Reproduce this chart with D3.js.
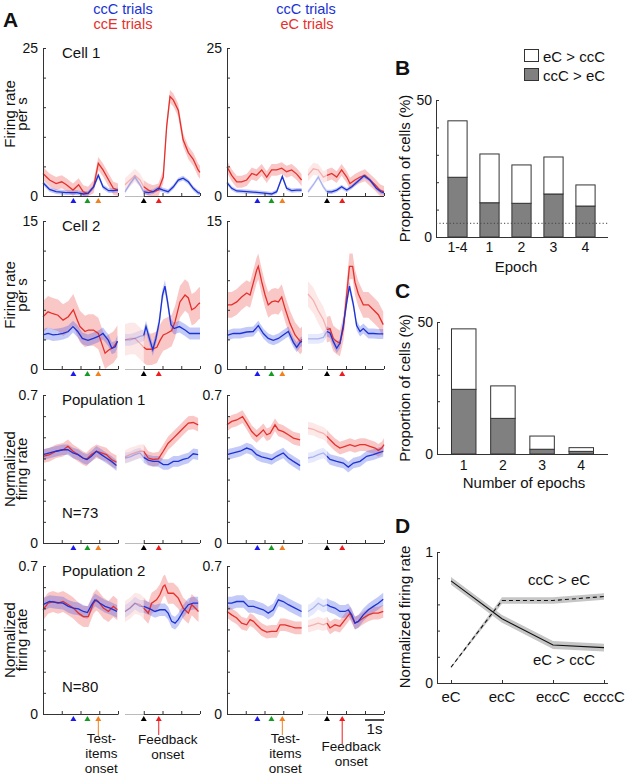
<!DOCTYPE html>
<html><head><meta charset="utf-8">
<script src="https://cdn.jsdelivr.net/npm/d3@7"></script>
<style>
body{margin:0;background:#fff}
text{font-family:"Liberation Sans",Arial,Helvetica,sans-serif;fill:#111}
</style>
</head><body><script>
// ================= DATA =================
// Panel A: traces as [time (s) within epoch window, firing rate]
// Row 1: Cell 1
const c1L_test_ccE=[[0,3.8],[0.35,2.7],[0.7,2.1],[1.0,2.4],[1.25,1.9],[1.6,1.0],[1.9,1.9],[2.15,0.7],[2.4,0.45],[2.7,1.55],[2.95,5.5],[3.2,4.4],[3.5,2.7],[3.75,1.3],[4.0,1.0]];
const c1L_test_ccC=[[0,2.25],[0.35,1.1],[0.7,0.73],[1.25,0.56],[1.8,0.56],[2.15,0.34],[2.4,0.45],[2.7,1.55],[2.95,3.5],[3.2,1.55],[3.5,0.9],[3.75,0.9],[4.0,1.0]];
const c1L_fb_ccE=[[0,1.9],[0.27,2.7],[0.53,3.5],[0.8,2.7],[1.0,1.55],[1.25,1.0],[1.5,0.7],[1.78,1.0],[2.04,3.2],[2.22,11.7],[2.4,16.8],[2.58,16.2],[2.84,14.5],[3.1,9.5],[3.38,7.3],[3.64,6.2],[3.9,4.4],[4.0,4.0]];
const c1L_fb_ccC=[[0,0.7],[0.27,2.1],[0.53,3.2],[0.8,1.9],[1.0,0.7],[1.25,0.56],[1.5,0.73],[1.78,1.3],[2.04,1.0],[2.3,0.73],[2.58,1.55],[2.84,2.7],[3.1,3.0],[3.38,2.4],[3.64,1.3],[3.9,0.56],[4.0,0.5]];
const c1R_test_eC=[[0,4.95],[0.25,3.5],[0.52,2.4],[0.78,2.4],[1.05,2.7],[1.32,3.8],[1.58,3.5],[1.85,4.4],[2.12,3.2],[2.38,4.4],[2.65,4.4],[2.92,4.7],[3.18,4.1],[3.45,4.4],[3.72,3.7],[3.98,2.7]];
const c1R_test_ccC=[[0,2.25],[0.25,1.3],[0.52,0.85],[1.05,0.73],[1.58,0.62],[2.12,0.45],[2.38,0.34],[2.65,0.73],[2.95,3.3],[3.18,1.3],[3.45,0.9],[3.72,1.0],[3.98,1.0]];
const c1R_fb_eC=[[0,3.5],[0.28,4.6],[0.54,4.4],[0.81,3.2],[1.0,3.5],[1.25,3.8],[1.51,3.2],[1.77,4.4],[2.04,3.2],[2.21,2.1],[2.47,2.7],[2.74,3.2],[3.0,3.5],[3.26,2.7],[3.53,1.9],[3.79,1.0],[4.0,0.7]];
const c1R_fb_ccC=[[0,0.7],[0.28,1.9],[0.54,3.2],[0.81,1.55],[1.0,0.7],[1.25,0.7],[1.51,1.0],[1.77,1.55],[2.04,1.0],[2.3,1.55],[2.6,2.4],[2.95,3.4],[3.26,2.7],[3.6,1.3],[3.85,0.7],[4.0,0.56]];
// Row 2: Cell 2
const c2L_test_ccE=[[0,5.3],[0.27,5.8],[0.53,5.6],[0.8,5.45],[1.07,4.95],[1.35,5.3],[1.62,6.0],[1.8,5.1],[1.97,4.3],[2.24,3.8],[2.42,3.95],[2.69,3.95],[2.95,3.6],[3.13,2.6],[3.31,1.6],[3.49,1.9],[3.75,2.2],[3.97,2.8]];
const c2L_test_ccC=[[0,3.45],[0.27,3.6],[0.53,3.45],[0.8,3.5],[1.07,3.6],[1.35,3.8],[1.6,4.3],[1.85,3.8],[2.1,3.1],[2.4,2.9],[2.69,3.1],[2.95,3.3],[3.2,3.6],[3.49,2.9],[3.67,2.1],[3.85,2.25],[3.97,2.8]];
const c2L_fb_ccE=[[0,2.95],[0.27,3.1],[0.53,3.1],[0.8,2.6],[1.0,2.2],[1.15,2.0],[1.42,2.0],[1.7,2.2],[1.87,2.9],[2.04,3.45],[2.22,3.6],[2.49,3.9],[2.67,4.8],[2.93,6.8],[3.2,7.5],[3.38,7.2],[3.56,6.0],[3.74,6.2],[3.92,6.6],[4.0,6.7]];
const c2L_fb_ccC=[[0,2.95],[0.27,2.95],[0.53,3.1],[0.8,3.3],[1.0,3.4],[1.12,4.3],[1.3,3.1],[1.48,1.95],[1.65,3.1],[1.83,4.8],[2.0,7.5],[2.13,8.4],[2.27,6.8],[2.45,4.5],[2.62,4.1],[2.9,4.3],[3.2,3.95],[3.45,3.6],[3.75,3.6],[4.0,3.6]];
const c2R_test_eC=[[0,6.5],[0.25,6.5],[0.52,6.8],[0.78,7.3],[1.05,7.7],[1.23,7.5],[1.4,8.7],[1.58,10.0],[1.67,10.4],[1.85,8.85],[2.03,7.5],[2.2,6.5],[2.38,6.8],[2.56,6.9],[2.74,6.8],[2.92,7.3],[3.1,6.1],[3.36,4.6],[3.63,3.45],[3.9,2.8],[4.0,3.0]];
const c2R_test_ccC=[[0,3.4],[0.34,3.6],[0.7,3.6],[1.05,3.75],[1.4,3.8],[1.67,4.4],[1.94,3.6],[2.2,3.1],[2.47,2.9],[2.74,3.1],[3.0,3.45],[3.27,3.8],[3.54,2.7],[3.72,2.2],[3.9,2.7],[4.0,2.8]];
const c2R_fb_eC=[[0,7.6],[0.28,6.95],[0.54,5.9],[0.81,5.0],[1.0,3.98],[1.16,4.1],[1.33,3.1],[1.51,2.8],[1.68,2.6],[1.86,4.1],[2.04,7.6],[2.18,10.4],[2.35,10.4],[2.47,8.8],[2.65,7.6],[2.91,6.5],[3.18,6.5],[3.44,6.0],[3.7,5.5],[3.96,4.5]];
const c2R_fb_ccC=[[0,3.05],[0.28,3.05],[0.54,3.05],[0.81,3.2],[1.0,3.8],[1.16,3.65],[1.33,2.8],[1.51,2.1],[1.68,2.6],[1.86,4.45],[2.04,6.8],[2.18,8.4],[2.39,6.5],[2.56,4.4],[2.74,3.8],[2.91,4.1],[3.18,3.6],[3.44,3.6],[3.7,3.55],[3.96,3.55]];
// Row 3: Population 1 (normalized)
const p1L_test_ccE=[[0,0.41],[0.35,0.418],[0.7,0.434],[1.07,0.441],[1.33,0.457],[1.6,0.434],[1.87,0.418],[2.13,0.402],[2.31,0.395],[2.58,0.418],[2.85,0.434],[3.11,0.426],[3.38,0.418],[3.65,0.395],[3.92,0.382]];
const p1L_test_ccC=[[0,0.418],[0.35,0.426],[0.7,0.434],[1.07,0.441],[1.33,0.441],[1.6,0.426],[1.87,0.418],[2.13,0.402],[2.35,0.395],[2.58,0.41],[2.85,0.434],[3.11,0.418],[3.38,0.402],[3.65,0.386],[3.92,0.366]];
const p1L_fb_ccE=[[0,0.407],[0.27,0.418],[0.53,0.426],[0.8,0.434],[1.0,0.434],[1.24,0.402],[1.5,0.395],[1.78,0.398],[2.04,0.434],[2.3,0.472],[2.58,0.496],[2.84,0.519],[3.1,0.543],[3.38,0.567],[3.64,0.57],[3.9,0.559]];
const p1L_fb_ccC=[[0,0.402],[0.27,0.407],[0.53,0.418],[0.8,0.426],[1.0,0.405],[1.24,0.392],[1.5,0.386],[1.78,0.386],[2.04,0.371],[2.3,0.371],[2.58,0.386],[2.84,0.386],[3.1,0.395],[3.38,0.402],[3.64,0.422],[3.9,0.418]];
const p1R_test_eC=[[0,0.559],[0.25,0.575],[0.52,0.582],[0.83,0.598],[1.05,0.567],[1.32,0.527],[1.58,0.504],[1.76,0.519],[1.94,0.535],[2.12,0.512],[2.3,0.519],[2.56,0.559],[2.74,0.535],[3.0,0.527],[3.27,0.512],[3.54,0.496],[3.9,0.488]];
const p1R_test_ccC=[[0,0.418],[0.34,0.426],[0.7,0.434],[1.05,0.449],[1.32,0.441],[1.58,0.418],[1.85,0.407],[2.12,0.402],[2.38,0.395],[2.65,0.41],[3.0,0.426],[3.27,0.402],[3.54,0.386],[3.9,0.366]];
const p1R_fb_eC=[[0,0.543],[0.28,0.538],[0.54,0.527],[0.81,0.519],[1.0,0.504],[1.16,0.488],[1.42,0.465],[1.68,0.449],[1.95,0.457],[2.21,0.465],[2.47,0.457],[2.74,0.465],[3.0,0.465],[3.26,0.457],[3.53,0.449],[3.7,0.438],[3.88,0.449],[4.0,0.465]];
const p1R_fb_ccC=[[0,0.402],[0.28,0.407],[0.54,0.418],[0.81,0.426],[1.0,0.41],[1.16,0.395],[1.51,0.386],[1.86,0.378],[2.12,0.359],[2.39,0.378],[2.74,0.386],[3.09,0.41],[3.44,0.418],[3.7,0.426],[3.96,0.434]];
// Row 4: Population 2 (normalized)
const p2L_test_ccE=[[0,0.493],[0.27,0.524],[0.53,0.532],[0.8,0.524],[1.07,0.532],[1.35,0.517],[1.62,0.501],[1.89,0.477],[2.15,0.461],[2.42,0.461],[2.69,0.524],[2.85,0.54],[2.95,0.532],[3.22,0.501],[3.49,0.485],[3.75,0.509],[3.97,0.493]];
const p2L_test_ccC=[[0,0.517],[0.35,0.532],[0.7,0.528],[1.07,0.524],[1.35,0.509],[1.62,0.501],[1.89,0.497],[2.15,0.485],[2.37,0.48],[2.6,0.517],[2.77,0.54],[3.04,0.524],[3.31,0.509],[3.58,0.501],[3.95,0.485]];
const p2L_fb_ccE=[[0,0.485],[0.27,0.501],[0.53,0.524],[0.8,0.517],[1.0,0.501],[1.24,0.477],[1.42,0.524],[1.68,0.54],[1.86,0.564],[2.04,0.603],[2.13,0.61],[2.3,0.571],[2.58,0.571],[2.84,0.548],[3.1,0.501],[3.38,0.477],[3.56,0.517],[3.74,0.501],[3.92,0.485]];
const p2L_fb_ccC=[[0,0.485],[0.27,0.501],[0.53,0.524],[0.8,0.509],[1.0,0.509],[1.33,0.497],[1.6,0.485],[1.86,0.493],[2.13,0.493],[2.3,0.477],[2.49,0.438],[2.67,0.43],[2.84,0.446],[3.1,0.485],[3.38,0.517],[3.64,0.524],[3.9,0.524]];
const p2R_test_eC=[[0,0.485],[0.25,0.469],[0.52,0.454],[0.78,0.43],[1.05,0.422],[1.23,0.446],[1.41,0.438],[1.58,0.422],[1.85,0.399],[2.12,0.387],[2.38,0.391],[2.65,0.391],[2.83,0.422],[3.09,0.422],[3.36,0.415],[3.63,0.407],[3.98,0.407]];
const p2R_test_ccC=[[0,0.524],[0.25,0.524],[0.52,0.532],[0.88,0.532],[1.14,0.509],[1.41,0.509],[1.67,0.501],[1.94,0.493],[2.2,0.477],[2.47,0.493],[2.74,0.54],[3.0,0.532],[3.27,0.517],[3.63,0.501],[3.98,0.485]];
const p2R_fb_eC=[[0,0.415],[0.28,0.422],[0.54,0.43],[0.81,0.422],[1.0,0.43],[1.16,0.407],[1.42,0.422],[1.68,0.415],[1.95,0.446],[2.21,0.477],[2.47,0.43],[2.65,0.438],[2.91,0.454],[3.18,0.469],[3.44,0.477],[3.7,0.477],[3.96,0.485]];
const p2R_fb_ccC=[[0,0.485],[0.28,0.501],[0.54,0.524],[0.81,0.509],[1.0,0.517],[1.16,0.509],[1.42,0.501],[1.68,0.485],[1.95,0.485],[2.12,0.493],[2.3,0.469],[2.47,0.43],[2.65,0.438],[2.91,0.469],[3.18,0.493],[3.44,0.509],[3.7,0.524],[3.96,0.543]];
// SEM half-widths per row (red, blue) for left & right columns
const semRedL=[1.1,1.6,0.032,0.05], semBlueL=[0.4,0.6,0.025,0.03];
const semRedR=[1.0,1.3,0.03,0.03],  semBlueR=[0.35,0.5,0.025,0.03];
const rowMax=[25,15,0.7,0.7], rowStep=[5,3,0.1,0.1], rowMaxLabel=['25','15','0.7','0.7'];
const rowNames=['Cell 1','Cell 2','Population 1','Population 2'];
const rowYLabels=[['Firing rate','per s'],['Firing rate','per s'],['Normalized','firing rate'],['Normalized','firing rate']];
const popN=['N=73','N=80'];
const testEvents=[1.62,2.37,2.95];   // s, in test window
const fbEvents=[1.0,1.8];            // s, in feedback window
// Panel B
const epochs=['1-4','1','2','3','4'];
const B_ccCgteC=[21.8,12.5,12.3,15.7,11.3];
const B_eCgtccC=[20.6,17.8,14.0,13.5,7.7];
const chanceLevel=5;
// Panel C
const nEpochs=['1','2','3','4'];
const C_ccCgteC=[24.5,13.5,1.8,1.0];
const C_eCgtccC=[22.9,12.3,5.0,1.4];
// Panel D
const seqCats=['eC','ecC','eccC','ecccC'];
const D_eCgtccC=[0.78,0.49,0.29,0.27];
const D_ccCgteC=[0.12,0.63,0.63,0.66];
const D_semSolid=[0.03,0.03,0.03,0.03];
const D_semDashed=[0.006,0.025,0.025,0.025];

// ================= DRAW =================
const RED='#e5302b', BLUE='#1b33d3', REDB='rgb(238,80,80)', BLUEB='rgb(60,80,230)';
const AX='#333';
const svg=d3.select('body').append('svg').attr('width',625).attr('height',776);

function txt(x,y,s,o={}){
  const t=svg.append('text').attr('x',x).attr('y',y).text(s)
    .style('font-size',(o.size||15)+'px');
  if(o.anchor) t.attr('text-anchor',o.anchor);
  if(o.weight) t.style('font-weight',o.weight);
  if(o.fill) t.style('fill',o.fill);
  if(o.rot) t.attr('transform',`rotate(-90,${x},${y})`);
  return t;
}

// Panel A layout
const colX=[43,227], seg2X=[125,308], segW1=75, segW2=[75,76];
const rowTop=[48,221,395,566], rowH=148;
const rowLabelY=[114,295,469,640];

function subplot(r,c,red1,blue1,red2,blue2,semR,semB){
  const top=rowTop[r], bot=top+rowH;
  const y=d3.scaleLinear().domain([0,rowMax[r]]).range([bot,top]);
  const xa=d3.scaleLinear().domain([0,4]).range([colX[c],colX[c]+segW1]);
  const xb=d3.scaleLinear().domain([0,4]).range([seg2X[c],seg2X[c]+segW2[c]]);
  const g=svg.append('g');
  const band=(d,x,sem,col,op)=>g.append('path').datum(d)
     .attr('d',d3.area().x(p=>x(p[0])).y0(p=>y(Math.max(0,p[1]-sem))).y1(p=>y(p[1]+sem)))
     .attr('fill',col).attr('fill-opacity',op);
  const line=(d,x,col,op)=>g.append('path').datum(d)
     .attr('d',d3.line().x(p=>x(p[0])).y(p=>y(p[1])))
     .attr('fill','none').attr('stroke',col).attr('stroke-width',1.3).attr('stroke-opacity',op);
  const pre=d=>d.filter(p=>p[0]<=1), post=d=>d.filter(p=>p[0]>=1);
  band(red1,xa,semR,REDB,0.32); band(blue1,xa,semB,BLUEB,0.3);
  band(pre(red2),xb,semR,REDB,0.13); band(pre(blue2),xb,semB,BLUEB,0.12);
  band(post(red2),xb,semR,REDB,0.32); band(post(blue2),xb,semB,BLUEB,0.3);
  line(red1,xa,RED,1); line(blue1,xa,BLUE,1);
  line(pre(red2),xb,RED,0.3); line(pre(blue2),xb,BLUE,0.3);
  line(post(red2),xb,RED,1); line(post(blue2),xb,BLUE,1);
  // y axis
  const ya=d3.axisLeft(y).tickValues(d3.range(0,rowMax[r]+rowStep[r]/2,rowStep[r]))
    .tickSizeInner(-3).tickSizeOuter(0).tickPadding(5)
    .tickFormat(d=>d===0?'0':(Math.abs(d-rowMax[r])<1e-9?rowMaxLabel[r]:''));
  const ga=svg.append('g').attr('transform',`translate(${colX[c]},0)`).call(ya);
  ga.select('.domain').attr('stroke',AX);
  ga.selectAll('.tick line').attr('stroke',AX);
  ga.selectAll('text').style('font-size','14px').attr('font-family',null);
  // x axes
  const xA=d3.axisBottom(xa).tickValues([1,2,3,4]).tickSize(-3).tickSizeOuter(0).tickFormat('');
  const gx=svg.append('g').attr('transform',`translate(0,${bot})`).call(xA);
  gx.select('.domain').attr('stroke',AX); gx.selectAll('.tick line').attr('stroke',AX);
  const xB=d3.axisBottom(xb).tickValues([1,2,3,4]).tickSize(-3).tickSizeOuter(0).tickFormat('');
  const gx2=svg.append('g').attr('transform',`translate(0,${bot})`).call(xB);
  gx2.select('.domain').remove(); gx2.selectAll('.tick line').attr('stroke',AX);
  svg.append('line').attr('x1',xb(0)).attr('x2',xb(1)).attr('y1',bot+0.5).attr('y2',bot+0.5).attr('stroke','#bbb');
  svg.append('line').attr('x1',xb(1)).attr('x2',xb(4)).attr('y1',bot+0.5).attr('y2',bot+0.5).attr('stroke',AX);
  // event markers
  const tri=(x,col)=>svg.append('path').attr('d',`M${x},${bot+2}L${x-3},${bot+7}L${x+3},${bot+7}Z`).attr('fill',col);
  ['#1a1aee','#159a22','#f08020'].forEach((col,i)=>tri(xa(testEvents[i]),col));
  ['#000','#ee1c1c'].forEach((col,i)=>tri(xb(fbEvents[i]),col));
  // labels
  if(c===0){
    txt(62,top+10,rowNames[r]);
    const lx=[15,27];
    rowYLabels[r].forEach((s,i)=>txt(lx[i],rowLabelY[r],s,{anchor:'middle',rot:true}));
    if(r>=2) txt(62,top+(r===2?123:126),popN[r-2]);
  }
  return {xa,xb,bot};
}

const L=[[c1L_test_ccE,c1L_test_ccC,c1L_fb_ccE,c1L_fb_ccC],[c2L_test_ccE,c2L_test_ccC,c2L_fb_ccE,c2L_fb_ccC],
         [p1L_test_ccE,p1L_test_ccC,p1L_fb_ccE,p1L_fb_ccC],[p2L_test_ccE,p2L_test_ccC,p2L_fb_ccE,p2L_fb_ccC]];
const R=[[c1R_test_eC,c1R_test_ccC,c1R_fb_eC,c1R_fb_ccC],[c2R_test_eC,c2R_test_ccC,c2R_fb_eC,c2R_fb_ccC],
         [p1R_test_eC,p1R_test_ccC,p1R_fb_eC,p1R_fb_ccC],[p2R_test_eC,p2R_test_ccC,p2R_fb_eC,p2R_fb_ccC]];
let last=[];
for(let r=0;r<4;r++){
  last[0]=subplot(r,0,...L[r],semRedL[r],semBlueL[r]);
  last[1]=subplot(r,1,...R[r],semRedR[r],semBlueR[r]);
}
// headers
txt(3,27,'A',{size:21,weight:'bold'});
txt(123,13.5,'ccC trials',{anchor:'middle',fill:BLUE,size:14.5});
txt(123,28.5,'ccE trials',{anchor:'middle',fill:RED,size:14.5});
txt(306,13.5,'ccC trials',{anchor:'middle',fill:BLUE,size:14.5});
txt(307,28.5,'eC trials',{anchor:'middle',fill:RED,size:14.5});
// bottom arrows + labels
const LH=15, FS=13.5;
[[0,743,744,737,735],[1,743,751,735,744]].forEach(([c,t1,f1,ao,ar])=>{
  const s=last[c];
  const xo=s.xa(testEvents[2]), xr=s.xb(fbEvents[1]);
  svg.append('line').attr('x1',xo).attr('x2',xo).attr('y1',s.bot+6).attr('y2',ao).attr('stroke','#f08020');
  svg.append('line').attr('x1',xr).attr('x2',xr).attr('y1',s.bot+6).attr('y2',ar).attr('stroke','#ee1c1c');
  ['Test-','items','onset'].forEach((w,i)=>txt(xo+3,t1+i*LH,w,{anchor:'middle',size:FS}));
  ['Feedback','onset'].forEach((w,i)=>txt(xr+9,f1+i*LH,w,{anchor:'middle',size:FS}));
});
// scale bar 1s
{const s=last[1]; svg.append('line').attr('x1',s.xb(3)).attr('x2',s.xb(4)).attr('y1',s.bot+6).attr('y2',s.bot+6).attr('stroke','#111').attr('stroke-width',1.5);
 txt((s.xb(3)+s.xb(4))/2,s.bot+20,'1s',{anchor:'middle'});}

// ---------- Panel B & C ----------
function stackedBars(cats,gray,white,yTop,yBot,x0,x1,pIn,pOut,opts){
  const y=d3.scaleLinear().domain([0,50]).range([yBot,yTop]);
  const x=d3.scaleBand().domain(cats).range(opts.bandRange).paddingInner(pIn).paddingOuter(pOut);
  const rows=cats.map((k,i)=>({cat:k,g:gray[i],w:white[i]}));
  const st=d3.stack().keys(['g','w'])(rows);
  st.forEach((layer,li)=>{
    svg.append('g').selectAll('rect').data(layer).join('rect')
      .attr('x',d=>x(d.data.cat)).attr('width',x.bandwidth())
      .attr('y',d=>y(d[1])).attr('height',d=>y(d[0])-y(d[1]))
      .attr('fill',li===0?'#808080':'#fff').attr('stroke','#333').attr('stroke-width',1);
  });
  const ya=d3.axisLeft(y).tickValues([0,10,20,30,40,50]).tickSizeInner(-3).tickSizeOuter(0).tickPadding(4)
    .tickFormat(d=>(d===0||d===50)?d:'');
  const ga=svg.append('g').attr('transform',`translate(${x0},0)`).call(ya);
  ga.selectAll('text').style('font-size','14px').attr('font-family',null);
  ga.select('.domain').attr('stroke',AX); ga.selectAll('.tick line').attr('stroke',AX);
  svg.append('line').attr('x1',x0).attr('x2',x1).attr('y1',yBot+0.5).attr('y2',yBot+0.5).attr('stroke',AX);
  cats.forEach(k=>txt(x(k)+x.bandwidth()/2,opts.labY,k,{anchor:'middle',size:14}));
  txt(410,(yTop+yBot)/2,'Proportion of cells (%)',{anchor:'middle',rot:true});
  return {x,y};
}
const b=stackedBars(epochs,B_ccCgteC,B_eCgtccC,100,237,436,608,0.4,0.2,{bandRange:[441.5,601.5],labY:252});
svg.append('line').attr('x1',436).attr('x2',608).attr('y1',b.y(chanceLevel)).attr('y2',b.y(chanceLevel))
  .attr('stroke','#444').attr('stroke-dasharray','1.2,2.2');
txt(516,272,'Epoch',{anchor:'middle'});
txt(395,75,'B',{size:21,weight:'bold'});
// legend
svg.append('rect').attr('x',524.5).attr('y',49.5).attr('width',14).attr('height',12).attr('fill','#fff').attr('stroke','#333');
svg.append('rect').attr('x',524.5).attr('y',68.5).attr('width',14).attr('height',12).attr('fill','#808080').attr('stroke','#333');
txt(543,62,'eC > ccC'); txt(543,81,'ccC > eC');

stackedBars(nEpochs,C_ccCgteC,C_eCgtccC,322,454,437,608,0.375,0.37,{bandRange:[437,608],labY:470});
txt(524,488,'Number of epochs',{anchor:'middle'});
txt(395,298,'C',{size:21,weight:'bold'});

// ---------- Panel D ----------
{
  const y=d3.scaleLinear().domain([0,1]).range([683,552]);
  const x=d3.scalePoint().domain(seqCats).range([451,604]);
  const mk=(vals,sem)=>seqCats.map((k,i)=>({k,v:vals[i],s:sem[i]}));
  const solid=mk(D_eCgtccC,D_semSolid), dashed=mk(D_ccCgteC,D_semDashed);
  const area=d3.area().x(d=>x(d.k)).y0(d=>y(d.v-d.s)).y1(d=>y(d.v+d.s));
  const ln=d3.line().x(d=>x(d.k)).y(d=>y(d.v));
  svg.append('path').datum(solid).attr('d',area).attr('fill','#c6c6c6');
  svg.append('path').datum(dashed).attr('d',area).attr('fill','#c6c6c6');
  svg.append('path').datum(solid).attr('d',ln).attr('fill','none').attr('stroke','#111').attr('stroke-width',1.1);
  svg.append('path').datum(dashed).attr('d',ln).attr('fill','none').attr('stroke','#111').attr('stroke-width',1.1).attr('stroke-dasharray','4,3');
  const ya=d3.axisLeft(y).tickValues([0,0.2,0.4,0.6,0.8,1]).tickSizeInner(-3).tickSizeOuter(0).tickPadding(4)
    .tickFormat(d=>(d===0||d===1)?d:'');
  const ga=svg.append('g').attr('transform','translate(437,0)').call(ya);
  ga.selectAll('text').style('font-size','14px').attr('font-family',null);
  ga.select('.domain').attr('stroke',AX); ga.selectAll('.tick line').attr('stroke',AX);
  const xa=d3.axisBottom(x).tickSize(-3).tickSizeOuter(0).tickFormat('');
  const gx=svg.append('g').attr('transform','translate(0,683)').call(xa);
  gx.select('.domain').remove(); gx.selectAll('.tick line').attr('stroke',AX);
  svg.append('line').attr('x1',437).attr('x2',608).attr('y1',683.5).attr('y2',683.5).attr('stroke',AX);
  seqCats.forEach(k=>txt(x(k),702,k,{anchor:'middle'}));
  txt(410,617,'Normalized firing rate',{anchor:'middle',rot:true});
  txt(528,585,'ccC > eC'); txt(533,665,'eC > ccC');
  txt(395,533,'D',{size:21,weight:'bold'});
}
</script></body></html>
